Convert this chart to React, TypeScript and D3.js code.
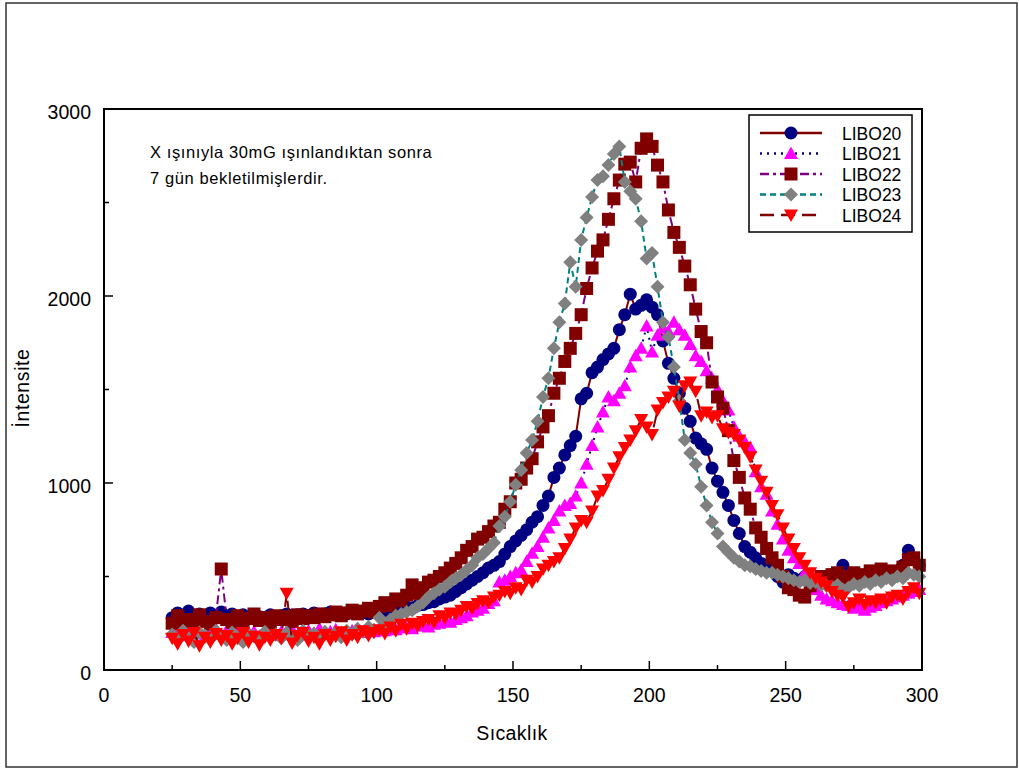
import React from 'react';
import * as d3 from 'd3';

// temperatures (x), 25..299
const temps = [
  25, 27, 29, 31, 33, 35, 37, 39, 41, 43,
  45, 47, 49, 51, 53, 55, 57, 59, 61, 63,
  65, 67, 69, 71, 73, 75, 77, 79, 81, 83,
  85, 87, 89, 91, 93, 95, 97, 99, 101, 103,
  105, 107, 109, 111, 113, 115, 117, 119, 121, 123,
  125, 127, 129, 131, 133, 135, 137, 139, 141, 143,
  145, 147, 149, 151, 153, 155, 157, 159, 161, 163,
  165, 167, 169, 171, 173, 175, 177, 179, 181, 183,
  185, 187, 189, 191, 193, 195, 197, 199, 201, 203,
  205, 207, 209, 211, 213, 215, 217, 219, 221, 223,
  225, 227, 229, 231, 233, 235, 237, 239, 241, 243,
  245, 247, 249, 251, 253, 255, 257, 259, 261, 263,
  265, 267, 269, 271, 273, 275, 277, 279, 281, 283,
  285, 287, 289, 291, 293, 295, 297, 299,
];

const libo20 = [
  280, 305, 290, 315, 285, 300, 280, 305, 290, 310,
  285, 300, 280, 295, 275, 290, 285, 280, 295, 285,
  290, 300, 285, 295, 300, 290, 305, 295, 300, 310,
  295, 305, 300, 310, 305, 315, 300, 310, 320, 315,
  325, 320, 330, 335, 330, 345, 350, 360, 365, 380,
  390, 400, 420, 440, 460, 480, 500, 520, 545, 560,
  580, 620, 660, 690, 720, 750, 790, 820, 880, 930,
  1030, 1080, 1150, 1200, 1250, 1450, 1480, 1590, 1620, 1660,
  1690, 1720, 1820, 1900, 2010, 1930, 1950, 1980, 1940, 1900,
  1760, 1640, 1560, 1480, 1400, 1330, 1240, 1210, 1180, 1080,
  1010, 950, 880, 800, 730, 660, 630, 600, 570, 555,
  540, 500, 470, 510, 490, 480, 500, 490, 480, 500,
  490, 480, 510, 560, 490, 480, 500, 490, 510, 500,
  490, 510, 520, 530, 560, 640, 590, 560,
];

const libo21 = [
  200, 215, 185, 220, 195, 210, 180, 205, 220, 190,
  210, 185, 200, 215, 190, 205, 180, 210, 195, 185,
  205, 190, 215, 185, 200, 210, 195, 220, 190, 205,
  215, 200, 190, 210, 220, 200, 215, 205, 225, 210,
  220, 215, 230, 225, 220, 235, 240, 230, 245, 250,
  260, 255, 270, 280, 290, 310, 320, 330, 355, 370,
  470, 480, 500, 520, 535, 580, 625, 660, 710, 760,
  800, 850, 880, 890, 930, 1000, 1100, 1200, 1300, 1380,
  1460, 1440, 1480, 1520, 1620, 1680, 1720, 1840, 1700, 1790,
  1830, 1810, 1860, 1820, 1790, 1740, 1680, 1650, 1600, 1560,
  1500, 1440, 1390, 1300, 1250, 1220, 1190, 1060, 980, 940,
  850, 780, 700, 640, 600, 570, 520, 480, 430, 400,
  380, 370, 360, 350, 345, 330, 340, 320, 335, 345,
  360, 370, 380, 390, 400, 410, 420, 430,
];

const libo22 = [
  250, 290, 240, 270, 255, 295, 260, 245, 280, 540,
  270, 255, 290, 260, 275, 300, 265, 280, 250, 290,
  270, 285, 260, 295, 275, 290, 280, 300, 285, 295,
  310, 290, 305, 320, 300, 315, 330, 310, 340, 360,
  345, 380, 370, 400, 455, 410, 440, 470, 480, 500,
  520, 545, 570, 600, 640, 660, 700, 710, 740, 770,
  790, 860, 900, 1000, 1020, 1080, 1130, 1220, 1300, 1360,
  1480, 1560, 1650, 1720, 1800, 1900, 2040, 2150, 2240, 2300,
  2410, 2520, 2620, 2705, 2716, 2610, 2790, 2840, 2800, 2700,
  2610, 2460, 2340, 2260, 2160, 2060, 1930, 1810, 1750, 1540,
  1460, 1400, 1280, 1120, 1030, 920, 860, 760, 710, 650,
  600, 560, 500, 440, 430, 400, 390, 450, 480, 500,
  490, 510, 520, 500, 480, 520, 510, 500, 530, 520,
  540, 510, 530, 520, 550, 590, 600, 560,
];

const libo23 = [
  190, 160, 210, 175, 150, 200, 185, 165, 210, 180,
  160, 200, 175, 150, 195, 180, 165, 205, 175, 190,
  170, 200, 180, 160, 210, 185, 195, 170, 205, 185,
  200, 175, 210, 190, 220, 205, 230, 215, 280, 250,
  270, 290, 300, 310, 320, 340, 360, 390, 410, 430,
  445, 470, 490, 510, 535, 560, 600, 620, 650, 680,
  770, 820, 900, 990, 1070, 1160, 1230, 1330, 1460, 1560,
  1720, 1860, 1960, 2180, 2050, 2300, 2420, 2530, 2620, 2640,
  2700, 2760, 2800, 2610, 2560, 2520, 2400, 2200, 2230, 2050,
  1860, 1780, 1620, 1440, 1230, 1160, 1100, 980, 880, 790,
  730, 660, 630, 600, 580, 560, 555, 540, 530, 520,
  520, 510, 500, 490, 480, 470, 480, 465, 470, 455,
  450, 445, 455, 430, 440, 460, 450, 470, 460, 480,
  470, 490, 480, 500, 490, 520, 510, 500,
];

const libo24 = [
  170, 140, 190, 155, 200, 130, 175, 150, 195, 160,
  185, 140, 170, 200, 150, 180, 135, 175, 160, 190,
  170, 410, 145, 185, 200, 155, 175, 140, 190, 160,
  180, 205, 160, 190, 175, 210, 185, 200, 215, 195,
  230, 210, 245, 220, 250, 235, 260, 270, 255, 290,
  280, 305, 300, 320, 340, 330, 355, 370, 360, 390,
  400, 420, 410, 440, 430, 480, 470, 500, 540, 560,
  580, 600, 650, 700, 760, 800, 790, 850, 930, 960,
  1020, 1080, 1140, 1190, 1230, 1280, 1340, 1300, 1260, 1390,
  1430, 1460, 1490, 1410, 1520, 1540, 1490, 1360, 1380, 1350,
  1360, 1290, 1270, 1260, 1230, 1190, 1140, 1070, 1010, 950,
  880, 830, 760, 700, 650, 600, 560, 520, 490, 470,
  450, 420, 400, 390, 340, 360, 380, 350, 370, 360,
  380, 360, 390, 400, 380, 420, 440, 410,
];

const seriesNames = ['LIBO20', 'LIBO21', 'LIBO22', 'LIBO23', 'LIBO24'];
const xTicks = [0, 50, 100, 150, 200, 250, 300];
const xMinor = [25, 75, 125, 175, 225, 275];
const yTicks = [0, 1000, 2000, 3000];
const yMinor = [500, 1500, 2500];

const styles = [
  { data: libo20, line: '#800000', dash: '', fill: '#000080', shape: 'circle' },
  { data: libo21, line: '#000080', dash: '2,5', fill: '#FF00FF', shape: 'up' },
  { data: libo22, line: '#800080', dash: '9,4,3,4', fill: '#800000', shape: 'square' },
  { data: libo23, line: '#008080', dash: '6,4', fill: '#808080', shape: 'diamond' },
  { data: libo24, line: '#800000', dash: '14,7', fill: '#FF0000', shape: 'down' },
];

function marker(shape: string, cx: number, cy: number, fill: string, key?: any) {
  if (shape === 'circle') return <circle key={key} cx={cx} cy={cy} r={6.5} fill={fill} />;
  let d = '';
  if (shape === 'square') d = `M${cx - 6.5},${cy - 6.5}h13v13h-13z`;
  if (shape === 'diamond') d = `M${cx},${cy - 7}L${cx + 7},${cy}L${cx},${cy + 7}L${cx - 7},${cy}z`;
  if (shape === 'up') d = `M${cx},${cy - 7}L${cx + 7},${cy + 5.5}L${cx - 7},${cy + 5.5}z`;
  if (shape === 'down') d = `M${cx},${cy + 7}L${cx + 7},${cy - 5.5}L${cx - 7},${cy - 5.5}z`;
  return <path key={key} d={d} fill={fill} />;
}

export default function App() {
  const x = d3.scaleLinear().domain([0, 300]).range([104, 922]);
  const y = d3.scaleLinear().domain([0, 3000]).range([670, 109]);
  const font = '"Liberation Sans", Arial, sans-serif';

  return (
    <svg width={1019} height={769} style={{ position: 'absolute', left: 0, top: 0, background: '#fff' }} fontFamily={font}>
      <rect x={6} y={3} width={1011} height={764} fill="#fff" stroke="#333" strokeWidth={1.5} />

      {styles.map((s, si) => {
        const pts = temps.map((t, i) => [t, s.data[i]] as [number, number]);
        const line = d3.line<[number, number]>().x(d => x(d[0])).y(d => y(d[1]));
        return (
          <g key={si}>
            <path d={line(pts) || ''} fill="none" stroke={s.line} strokeWidth={2} strokeDasharray={s.dash} />
            {pts.map((p, i) => marker(s.shape, x(p[0]), y(p[1]), s.fill, i))}
          </g>
        );
      })}

      {/* plot frame */}
      <rect x={104} y={109} width={818} height={561} fill="none" stroke="#000" strokeWidth={2} />

      {xTicks.map(t => (
        <g key={'xt' + t}>
          <line x1={x(t)} x2={x(t)} y1={670} y2={661} stroke="#000" strokeWidth={1.5} />
          <text x={x(t)} y={702} fontSize={19.5} textAnchor="middle">{t}</text>
        </g>
      ))}
      {xMinor.map(t => (
        <line key={'xm' + t} x1={x(t)} x2={x(t)} y1={670} y2={665} stroke="#000" strokeWidth={1.5} />
      ))}
      {yTicks.map(t => (
        <g key={'yt' + t}>
          <line x1={104} x2={113} y1={y(t)} y2={y(t)} stroke="#000" strokeWidth={1.5} />
          <text x={91} y={y(t) + 10} fontSize={19.5} textAnchor="end">{t}</text>
        </g>
      ))}
      {yMinor.map(t => (
        <line key={'ym' + t} x1={104} x2={109} y1={y(t)} y2={y(t)} stroke="#000" strokeWidth={1.5} />
      ))}

      <text x={512} y={740} fontSize={19.5} textAnchor="middle" letterSpacing={0.4}>Sıcaklık</text>
      <text transform="translate(29,388) rotate(-90)" fontSize={19.5} textAnchor="middle" letterSpacing={0.6}>İntensite</text>

      <text x={150} y={158} fontSize={16.5} letterSpacing={0.6}>X ışınıyla 30mG ışınlandıktan sonra</text>
      <text x={150} y={184} fontSize={16.5} letterSpacing={0.6}>7 gün bekletilmişlerdir.</text>

      {/* legend */}
      <rect x={749} y={115} width={163} height={117} fill="#fff" stroke="#000" strokeWidth={1.5} />
      {seriesNames.map((n, i) => {
        const ly = 133 + i * 20.5;
        const s = styles[i];
        return (
          <g key={n}>
            <line x1={760} x2={822} y1={ly} y2={ly} stroke={s.line} strokeWidth={2.5} strokeDasharray={s.dash} />
            {marker(s.shape, 791, ly, s.fill)}
            <text x={842} y={ly + 6.5} fontSize={17.5}>{n}</text>
          </g>
        );
      })}
    </svg>
  );
}
